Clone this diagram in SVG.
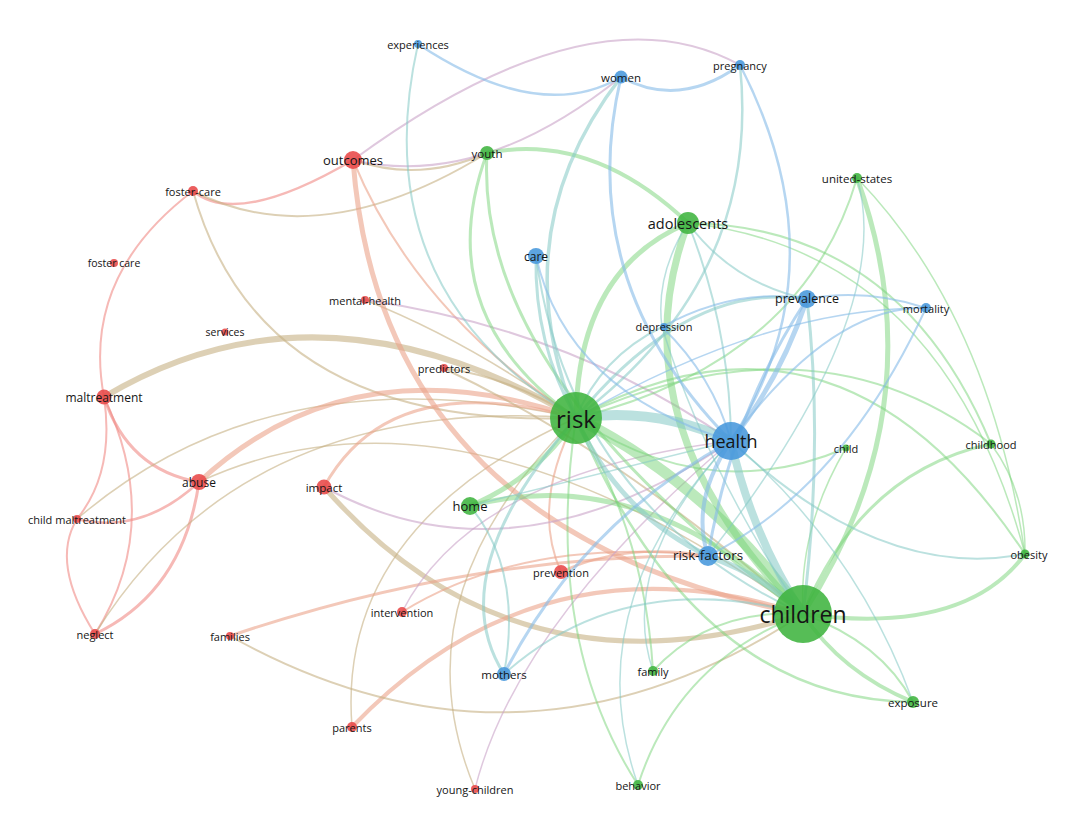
<svg xmlns="http://www.w3.org/2000/svg" width="1077" height="817" viewBox="0 0 1077 817">
<style>
path{fill:none;stroke-linecap:round}
.r{stroke:#f08a85;stroke-opacity:.6}
.s{stroke:#eba38a;stroke-opacity:.6}
.t{stroke:#c7b184;stroke-opacity:.6}
.p{stroke:#c9a3c8;stroke-opacity:.6}
.g{stroke:#78d378;stroke-opacity:.5}
.c{stroke:#84c8c4;stroke-opacity:.55}
.b{stroke:#86bbe8;stroke-opacity:.6}
.nr{fill:#e84848;fill-opacity:.88}
.ng{fill:#3fb43f;fill-opacity:.88}
.nb{fill:#4797dc;fill-opacity:.88}
text{font-family:"Open Sans","DejaVu Sans",sans-serif;fill:#151515;text-anchor:middle;dominant-baseline:central}
</style>
<rect width="1077" height="817" fill="#fff"/>
<g id="edges">
<path class="r" stroke-width="2.5" d="M353,160 Q237,228 193,191"/>
<path class="r" stroke-width="2" d="M193,191 Q81,276 104,397"/>
<path class="r" stroke-width="3" d="M104,397 Q128,470 199,482"/>
<path class="r" stroke-width="2" d="M104,397 Q115,472 77,519"/>
<path class="r" stroke-width="2" d="M104,397 Q164,524 95,634"/>
<path class="r" stroke-width="2" d="M77,519 Q50,563 95,634"/>
<path class="r" stroke-width="2.5" d="M77,519 Q142,535 199,482"/>
<path class="r" stroke-width="3" d="M95,634 Q183,592 199,482"/>
<path class="t" stroke-width="2" d="M353,160 Q420,183 487,153"/>
<path class="t" stroke-width="2" d="M193,191 Q320,256 487,153"/>
<path class="t" stroke-width="2" d="M193,191 Q260,430 576,418"/>
<path class="t" stroke-width="6" d="M104,397 Q320,268 576,418"/>
<path class="t" stroke-width="1.5" d="M95,634 Q244,394 576,418"/>
<path class="t" stroke-width="1.5" d="M77,519 Q273,351 576,418"/>
<path class="s" stroke-width="5" d="M199,482 Q352,340 576,418"/>
<path class="t" stroke-width="1.5" d="M199,482 Q458,362 803,614"/>
<path class="t" stroke-width="5" d="M324,487 Q515,706 803,614"/>
<path class="s" stroke-width="3" d="M324,487 Q390,367 576,418"/>
<path class="s" stroke-width="4" d="M352,727 Q541,530 803,614"/>
<path class="t" stroke-width="1.5" d="M352,727 Q336,527 576,418"/>
<path class="t" stroke-width="2" d="M230,636 Q522,799 803,614"/>
<path class="s" stroke-width="3" d="M230,636 Q471,554 708,556"/>
<path class="s" stroke-width="2" d="M402,612 Q525,536 708,556"/>
<path class="s" stroke-width="2" d="M561,572 Q531,505 576,418"/>
<path class="s" stroke-width="2.5" d="M561,572 Q625,542 708,556"/>
<path class="t" stroke-width="1.5" d="M475,789 Q394,596 576,418"/>
<path class="t" stroke-width="1.5" d="M365,300 Q469,341 576,418"/>
<path class="t" stroke-width="2" d="M443,368 Q510,377 576,418"/>
<path class="t" stroke-width="2" d="M443,368 Q616,449 803,614"/>
<path class="s" stroke-width="2" d="M353,160 Q415,311 576,418"/>
<path class="s" stroke-width="5" d="M353,160 Q381,533 803,614"/>
<path class="p" stroke-width="2" d="M353,160 Q593,-16 740,65"/>
<path class="p" stroke-width="2" d="M353,160 Q480,190 621,77"/>
<path class="p" stroke-width="2" d="M324,487 Q512,590 731,441"/>
<path class="p" stroke-width="1.5" d="M402,612 Q473,473 731,441"/>
<path class="p" stroke-width="1.5" d="M475,789 Q516,625 731,441"/>
<path class="p" stroke-width="2" d="M365,300 Q571,329 731,441"/>
<path class="g" stroke-width="5" d="M470,506 Q537,478 576,418"/>
<path class="g" stroke-width="5" d="M470,506 Q642,460 803,614"/>
<path class="g" stroke-width="11" d="M576,418 Q709,484 803,614"/>
<path class="g" stroke-width="7" d="M688,223 Q613,422 803,614"/>
<path class="g" stroke-width="5" d="M688,223 Q578,269 576,418"/>
<path class="g" stroke-width="4" d="M487,153 Q592,132 688,223"/>
<path class="g" stroke-width="3" d="M487,153 Q428,314 576,418"/>
<path class="g" stroke-width="3" d="M487,153 Q474,377 803,614"/>
<path class="g" stroke-width="2" d="M857,178 Q803,362 576,418"/>
<path class="g" stroke-width="5" d="M857,178 Q939,404 803,614"/>
<path class="g" stroke-width="1.5" d="M857,178 Q989,314 1025,554"/>
<path class="g" stroke-width="3" d="M991,444 Q862,471 803,614"/>
<path class="g" stroke-width="2" d="M991,444 Q816,309 576,418"/>
<path class="g" stroke-width="2" d="M688,223 Q900,226 991,444"/>
<path class="g" stroke-width="1.5" d="M688,223 Q943,251 1025,554"/>
<path class="g" stroke-width="1.5" d="M991,444 Q1026,491 1025,554"/>
<path class="g" stroke-width="4" d="M1025,554 Q965,636 803,614"/>
<path class="g" stroke-width="2" d="M1025,554 Q839,274 576,418"/>
<path class="g" stroke-width="2" d="M846,448 Q709,507 576,418"/>
<path class="g" stroke-width="1.5" d="M846,448 Q798,529 803,614"/>
<path class="g" stroke-width="4" d="M913,702 Q841,672 803,614"/>
<path class="g" stroke-width="2" d="M913,702 Q881,642 803,614"/>
<path class="g" stroke-width="2.5" d="M913,702 Q695,700 576,418"/>
<path class="g" stroke-width="2" d="M653,671 Q711,608 803,614"/>
<path class="g" stroke-width="2" d="M653,671 Q645,535 576,418"/>
<path class="g" stroke-width="2" d="M638,785 Q678,661 803,614"/>
<path class="g" stroke-width="2" d="M638,785 Q543,638 576,418"/>
<path class="c" stroke-width="2" d="M470,506 Q523,570 504,674"/>
<path class="c" stroke-width="3" d="M504,674 Q440,574 576,418"/>
<path class="c" stroke-width="2" d="M504,674 Q625,566 803,614"/>
<path class="c" stroke-width="10" stroke-opacity=".4" d="M576,418 Q656,406 731,441"/>
<path class="c" stroke-width="8" d="M731,441 Q751,533 803,614"/>
<path class="c" stroke-width="6" d="M708,556 Q763,575 803,614"/>
<path class="c" stroke-width="5" d="M708,556 Q618,513 576,418"/>
<path class="c" stroke-width="2" d="M418,44 Q363,289 576,418"/>
<path class="c" stroke-width="3.5" d="M621,77 Q501,232 576,418"/>
<path class="c" stroke-width="2.5" d="M740,65 Q762,278 576,418"/>
<path class="c" stroke-width="3" d="M536,256 Q534,343 576,418"/>
<path class="c" stroke-width="2" d="M536,256 Q569,505 803,614"/>
<path class="c" stroke-width="3" d="M807,299 Q824,444 803,614"/>
<path class="c" stroke-width="3" d="M807,299 Q688,281 576,418"/>
<path class="c" stroke-width="2" d="M688,223 Q732,283 807,299"/>
<path class="c" stroke-width="1.5" d="M857,178 Q897,313 708,556"/>
<path class="c" stroke-width="2" d="M1025,554 Q881,582 731,441"/>
<path class="c" stroke-width="1.5" d="M638,785 Q575,607 731,441"/>
<path class="c" stroke-width="1.5" d="M653,671 Q617,564 731,441"/>
<path class="c" stroke-width="2" d="M662,327 Q601,357 576,418"/>
<path class="c" stroke-width="1.5" d="M662,327 Q655,275 688,223"/>
<path class="c" stroke-width="1.5" d="M662,327 Q706,470 803,614"/>
<path class="c" stroke-width="2" d="M688,223 Q730,328 731,441"/>
<path class="c" stroke-width="1.5" d="M731,441 Q857,548 913,702"/>
<path class="c" stroke-width="1.5" d="M470,506 Q600,474 731,441"/>
<path class="b" stroke-width="3" d="M504,674 Q582,522 731,441"/>
<path class="b" stroke-width="4" d="M708,556 Q690,501 731,441"/>
<path class="b" stroke-width="2.5" d="M418,44 Q540,125 621,77"/>
<path class="b" stroke-width="3" d="M621,77 Q679,109 740,65"/>
<path class="b" stroke-width="3" d="M621,77 Q573,281 731,441"/>
<path class="b" stroke-width="2.5" d="M740,65 Q844,267 731,441"/>
<path class="b" stroke-width="2" d="M536,256 Q566,391 731,441"/>
<path class="b" stroke-width="5" d="M807,299 Q780,380 731,441"/>
<path class="b" stroke-width="2" d="M807,299 Q735,287 662,327"/>
<path class="b" stroke-width="2" d="M807,299 Q865,288 926,308"/>
<path class="b" stroke-width="3" d="M807,299 Q732,412 708,556"/>
<path class="b" stroke-width="2" d="M926,308 Q831,305 731,441"/>
<path class="b" stroke-width="2" d="M926,308 Q843,488 708,556"/>
<path class="b" stroke-width="1.5" d="M926,308 Q769,307 576,418"/>
<path class="b" stroke-width="2" d="M662,327 Q713,376 731,441"/>
</g>
<g id="n-outcomes"><circle class="nr" cx="353" cy="160" r="9"/><text x="353" y="160" font-size="13">outcomes</text></g>
<g id="n-foster-care"><circle class="nr" cx="193" cy="191" r="5"/><text x="193" y="191" font-size="11">foster-care</text></g>
<g id="n-foster-care2"><circle class="nr" cx="114" cy="263" r="4"/><text x="114" y="263" font-size="10.5">foster care</text></g>
<g id="n-mental-health"><circle class="nr" cx="365" cy="300" r="4"/><text x="365" y="300" font-size="11">mental-health</text></g>
<g id="n-services"><circle class="nr" cx="225" cy="332" r="3.5"/><text x="225" y="332" font-size="10.5">services</text></g>
<g id="n-predictors"><circle class="nr" cx="444" cy="368" r="4"/><text x="444" y="368" font-size="11">predictors</text></g>
<g id="n-maltreatment"><circle class="nr" cx="104" cy="397" r="7.5"/><text x="104" y="397" font-size="12">maltreatment</text></g>
<g id="n-abuse"><circle class="nr" cx="199" cy="482" r="8"/><text x="199" y="482" font-size="12">abuse</text></g>
<g id="n-impact"><circle class="nr" cx="324" cy="487" r="7.5"/><text x="324" y="487" font-size="11.5">impact</text></g>
<g id="n-child-maltreatment"><circle class="nr" cx="77" cy="519" r="4"/><text x="77" y="519" font-size="11">child maltreatment</text></g>
<g id="n-neglect"><circle class="nr" cx="95" cy="634" r="5"/><text x="95" y="634" font-size="11">neglect</text></g>
<g id="n-families"><circle class="nr" cx="230" cy="636" r="4"/><text x="230" y="636" font-size="11">families</text></g>
<g id="n-intervention"><circle class="nr" cx="402" cy="612" r="5"/><text x="402" y="612" font-size="11">intervention</text></g>
<g id="n-prevention"><circle class="nr" cx="561" cy="572" r="7"/><text x="561" y="572" font-size="11">prevention</text></g>
<g id="n-parents"><circle class="nr" cx="352" cy="727" r="5"/><text x="352" y="727" font-size="11">parents</text></g>
<g id="n-young-children"><circle class="nr" cx="475" cy="789" r="4"/><text x="475" y="789" font-size="11">young-children</text></g>
<g id="n-risk"><circle class="ng" cx="576" cy="418" r="26"/><text x="576" y="418" font-size="24">risk</text></g>
<g id="n-children"><circle class="ng" cx="803" cy="614" r="29"/><text x="803" y="614" font-size="23">children</text></g>
<g id="n-adolescents"><circle class="ng" cx="688" cy="223" r="11"/><text x="688" y="223" font-size="14.5">adolescents</text></g>
<g id="n-youth"><circle class="ng" cx="487" cy="153" r="7"/><text x="487" y="153" font-size="11.5">youth</text></g>
<g id="n-home"><circle class="ng" cx="470" cy="506" r="9"/><text x="470" y="506" font-size="13">home</text></g>
<g id="n-united-states"><circle class="ng" cx="857" cy="178" r="5"/><text x="857" y="178" font-size="11.5">united-states</text></g>
<g id="n-child"><circle class="ng" cx="846" cy="448" r="3.5"/><text x="846" y="448" font-size="11">child</text></g>
<g id="n-childhood"><circle class="ng" cx="991" cy="444" r="4.5"/><text x="991" y="444" font-size="11">childhood</text></g>
<g id="n-obesity"><circle class="ng" cx="1025" cy="554" r="4.5"/><text x="1029" y="554" font-size="11">obesity</text></g>
<g id="n-family"><circle class="ng" cx="653" cy="671" r="5"/><text x="653" y="671" font-size="11">family</text></g>
<g id="n-exposure"><circle class="ng" cx="913" cy="702" r="6"/><text x="913" y="702" font-size="11.5">exposure</text></g>
<g id="n-behavior"><circle class="ng" cx="638" cy="785" r="5"/><text x="638" y="785" font-size="11">behavior</text></g>
<g id="n-health"><circle class="nb" cx="731" cy="441" r="19"/><text x="731" y="441" font-size="18">health</text></g>
<g id="n-risk-factors"><circle class="nb" cx="708" cy="556" r="10"/><text x="708" y="555" font-size="13.5">risk-factors</text></g>
<g id="n-prevalence"><circle class="nb" cx="807" cy="299" r="9"/><text x="807" y="298" font-size="12.5">prevalence</text></g>
<g id="n-mortality"><circle class="nb" cx="926" cy="308" r="5"/><text x="926" y="308" font-size="11">mortality</text></g>
<g id="n-depression"><circle class="nb" cx="664" cy="327" r="4"/><text x="664" y="326" font-size="11">depression</text></g>
<g id="n-care"><circle class="nb" cx="536" cy="256" r="8"/><text x="536" y="256" font-size="12">care</text></g>
<g id="n-women"><circle class="nb" cx="621" cy="77" r="6.5"/><text x="621" y="77" font-size="11.5">women</text></g>
<g id="n-pregnancy"><circle class="nb" cx="740" cy="65" r="5"/><text x="740" y="65" font-size="11">pregnancy</text></g>
<g id="n-experiences"><circle class="nb" cx="418" cy="44" r="4"/><text x="418" y="44" font-size="11">experiences</text></g>
<g id="n-mothers"><circle class="nb" cx="504" cy="674" r="7"/><text x="504" y="674" font-size="11.5">mothers</text></g>
</svg>
